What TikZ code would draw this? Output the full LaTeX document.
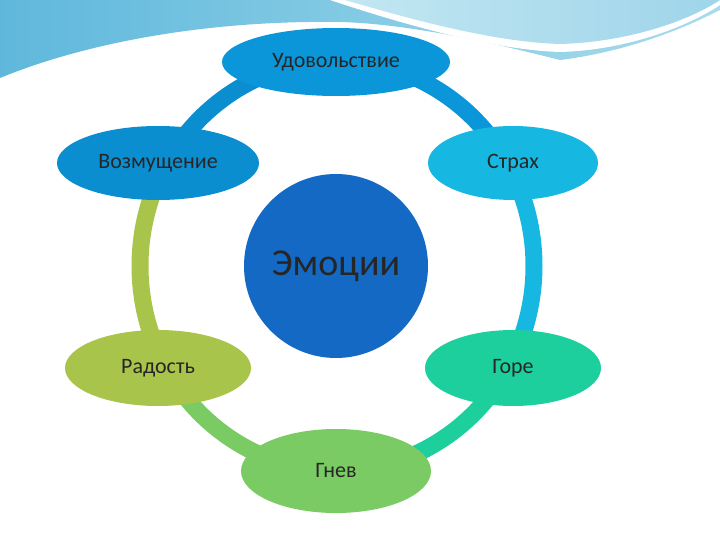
\documentclass[tikz,border=0pt]{standalone}
\usepackage{fontspec}
\setmainfont{Carlito}
\usetikzlibrary{shapes.geometric}
\definecolor{cA}{HTML}{0A96D8}\definecolor{cB}{HTML}{0A8ED0}\definecolor{cC}{HTML}{16B8E2}
\definecolor{cD}{HTML}{A9C44A}\definecolor{cE}{HTML}{1DCF9C}\definecolor{cF}{HTML}{7ACB63}
\definecolor{cM}{HTML}{1469C4}\definecolor{bgA}{HTML}{5FB8DC}\definecolor{bgB}{HTML}{A8DCEC}
\begin{document}
\begin{tikzpicture}[x=1pt,y=-1pt,
 emo/.style={ellipse,text=black!85,font=\fontsize{22}{26}\selectfont},
 ring/.style={line width=17pt}]
\useasboundingbox (0,0) rectangle (720,540);
\fill[white] (0,0) rectangle (720,540);
% background waves
\shade[left color=bgA,right color=bgB] (0,0) -- (0,78) .. controls (80,45) and (200,20) .. (340,22) .. controls (420,24) and (520,50) .. (560,60) .. controls (640,50) and (700,20) .. (720,10) -- (720,0) -- cycle;
\fill[white] (330,0) .. controls (420,30) and (500,50) .. (560,52) .. controls (630,50) and (690,25) .. (720,5) -- (720,0) -- cycle;
\shade[left color=bgB!70,right color=bgA!60] (345,0) .. controls (430,25) and (500,42) .. (560,44) .. controls (630,42) and (690,20) .. (720,0) -- cycle;
% ring
\coordinate (c) at (337,266);
\foreach \a/\b/\col in {205/270/cB,270/335/cA,335/392/cC,28/90/cE,90/152/cF,148/212/cD}{
 \draw[ring,\col] (c) ++(\a:197 and 205) arc[start angle=\a,end angle=\b,x radius=197,y radius=205];}
\node[circle,fill=cM,minimum size=184pt,font=\fontsize{38}{42}\selectfont,text=black!85] (m) at (336,266) {Эмоции};
\node[emo,fill=cA,minimum width=228pt,minimum height=68pt] (u) at (336,62) {Удовольствие};
\node[emo,fill=cB,minimum width=202pt,minimum height=74pt] (v) at (158,163) {Возмущение};
\node[emo,fill=cC,minimum width=170pt,minimum height=74pt] (s) at (513,163) {Страх};
\node[emo,fill=cD,minimum width=186pt,minimum height=76pt] (r) at (158,368) {Радость};
\node[emo,fill=cE,minimum width=176pt,minimum height=76pt] (g) at (513,368) {Горе};
\node[emo,fill=cF,minimum width=190pt,minimum height=84pt] (n) at (336,471) {Гнев};
\end{tikzpicture}
\end{document}
